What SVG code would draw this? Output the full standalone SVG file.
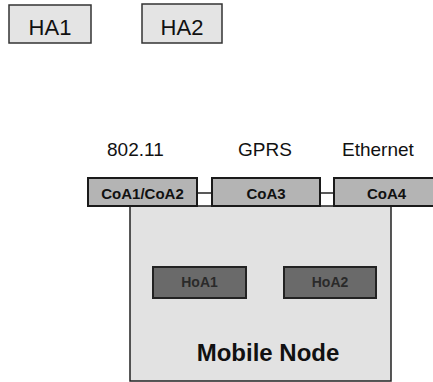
<svg xmlns="http://www.w3.org/2000/svg" width="433" height="382" viewBox="0 0 433 382">
<style>
.ha{fill:#e4e4e4;stroke:#333;stroke-width:1.5}
.hat{font-family:"Liberation Sans",Arial,sans-serif;font-size:22px;fill:#111;text-anchor:middle}
.lab{font-family:"Liberation Sans",Arial,sans-serif;font-size:19px;fill:#111}
.coa{fill:#b4b4b4;stroke:#1a1a1a;stroke-width:2}
.coat{font-family:"Liberation Sans",Arial,sans-serif;font-size:15px;font-weight:bold;fill:#111;text-anchor:middle}
.hoa{fill:#6a6a6a;stroke:#222;stroke-width:2}
.hoat{font-family:"Liberation Sans",Arial,sans-serif;font-size:14px;font-weight:bold;fill:#2a2a2a;text-anchor:middle}
.mn{fill:#e2e2e2;stroke:#222;stroke-width:1.5}
.mnt{font-family:"Liberation Sans",Arial,sans-serif;font-size:24px;font-weight:bold;fill:#111;text-anchor:middle}
.conn{stroke:#222;stroke-width:1.5;fill:none}
</style>
<g id="ha1"><rect class="ha" x="9" y="5" width="82" height="38"/><text class="hat" x="50" y="35">HA1</text></g>
<g id="ha2"><rect class="ha" x="142" y="4" width="80" height="39"/><text class="hat" x="182" y="35">HA2</text></g>
<g id="labels">
<text class="lab" x="107" y="156">802.11</text>
<text class="lab" x="238" y="156">GPRS</text>
<text class="lab" x="342" y="156">Ethernet</text>
</g>
<g id="mobile-node"><rect class="mn" x="130" y="206" width="261" height="175"/><text class="mnt" x="268" y="361">Mobile Node</text></g>
<g id="connectors">
<line class="conn" x1="197" y1="193" x2="212" y2="193"/>
<line class="conn" x1="320" y1="193" x2="334" y2="193"/>
</g>
<g id="coa12"><rect class="coa" x="88" y="178" width="109" height="28"/><text class="coat" x="142.5" y="199">CoA1/CoA2</text></g>
<g id="coa3"><rect class="coa" x="212" y="178" width="108" height="28"/><text class="coat" x="266" y="199">CoA3</text></g>
<g id="coa4"><rect class="coa" x="334" y="178" width="105" height="28"/><text class="coat" x="386.5" y="199">CoA4</text></g>
<g id="hoa1"><rect class="hoa" x="153" y="267" width="93" height="31"/><text class="hoat" x="199.5" y="287">HoA1</text></g>
<g id="hoa2"><rect class="hoa" x="284" y="267" width="92" height="31"/><text class="hoat" x="330" y="287">HoA2</text></g>
</svg>
